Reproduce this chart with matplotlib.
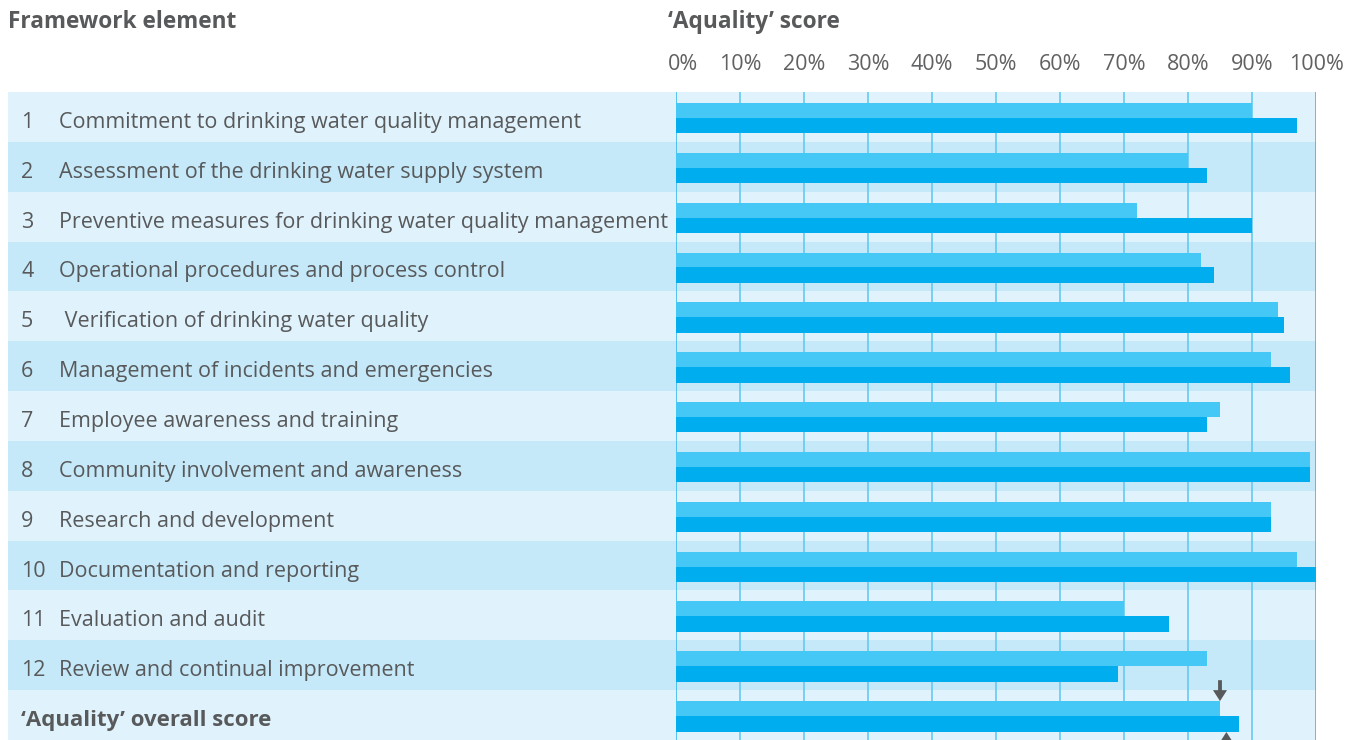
import matplotlib
matplotlib.use('Agg')
import matplotlib.pyplot as plt
import matplotlib.transforms as mtrans
from matplotlib.patches import Rectangle

# ---- data ----
numbers = ['1', '2', '3', '4', '5', '6', '7', '8', '9', '10', '11', '12', '']
elements = [
    'Commitment to drinking water quality management',
    'Assessment of the drinking water supply system',
    'Preventive measures for drinking water quality management',
    'Operational procedures and process control',
    ' Verification of drinking water quality',
    'Management of incidents and emergencies',
    'Employee awareness and training',
    'Community involvement and awareness',
    'Research and development',
    'Documentation and reporting',
    'Evaluation and audit',
    'Review and continual improvement',
    '\u2018Aquality\u2019 overall score',
]
score_light = [90, 80, 72, 82, 94, 93, 85, 99, 93, 97, 70, 83, 85]
score_dark = [97, 83, 90, 84, 95, 96, 83, 99, 93, 100, 77, 69, 88]
ticks = [0, 10, 20, 30, 40, 50, 60, 70, 80, 90, 100]
tick_labels = [f'{t}%' for t in ticks]
arrow_down_at = 85   # marker above the light bar of the overall row
arrow_up_at = 86     # marker below the dark bar of the overall row

# ---- style ----
TXT = '#58595B'
BAND_A = '#E0F3FC'
BAND_B = '#C5E9F8'
BAR_LIGHT = '#45C8F5'
BAR_DARK = '#00AEEF'
GRID = '#5CC6EF'
FONT = ['Open Sans', 'DejaVu Sans']
plt.rcParams['font.family'] = FONT
FS = 15.5
FS_HEAD = 16.3

W, H = 1362, 740
fig = plt.figure(figsize=(W / 100, H / 100), dpi=100)
ax = fig.add_axes([676 / W, 0, 640 / W, (740 - 92) / H])
n = len(elements)
ax.set_xlim(0, 100)
ax.set_ylim(n, 0)
ax.axis('off')

# background bands (extend left under the labels)
btr = mtrans.blended_transform_factory(ax.transAxes, ax.transData)
x0 = (8 - 676) / 640
for i in range(n):
    ax.add_patch(Rectangle((x0, i), 1 - x0, 1, transform=btr,
                           facecolor=BAND_A if i % 2 == 0 else BAND_B,
                           edgecolor='none', clip_on=False, zorder=0))

# gridlines
for t in ticks:
    c = '#2DB6EC' if t in (0, 100) else GRID
    ax.axvline(t, color=c, lw=1.1, zorder=1)

# bars
ys = list(range(n))
ax.barh([y + 0.37 for y in ys], score_light, height=0.30, color=BAR_LIGHT, zorder=2)
ax.barh([y + 0.675 for y in ys], score_dark, height=0.31, color=BAR_DARK, zorder=2)

# row labels
ltr = mtrans.blended_transform_factory(fig.transFigure, ax.transData)
BASE = 0.72
for i, (num, el) in enumerate(zip(numbers, elements)):
    if num:
        ax.text(21 / W, i + BASE, num, transform=ltr, ha='left', va='baseline',
                fontsize=FS, color=TXT)
        ax.text(59 / W, i + BASE, el, transform=ltr, ha='left', va='baseline',
                fontsize=FS, color=TXT)
    else:
        ax.text(21 / W, i + BASE, el, transform=ltr, ha='left', va='baseline',
                fontsize=16, color=TXT, fontweight='bold')

# tick labels on top
ttr = mtrans.blended_transform_factory(ax.transData, fig.transFigure)
for t, lab in zip(ticks, tick_labels):
    tr = ttr
    if t == ticks[0]:
        tr = ttr + mtrans.ScaledTranslation(7 / 100, 0, fig.dpi_scale_trans)
    ax.text(t, 1 - 70 / H, lab, transform=tr, ha='center', va='baseline',
            fontsize=FS, color='#606163', clip_on=False)

# headers
fig.text(8 / W, 1 - 28 / H, 'Framework element', ha='left', va='baseline',
         fontsize=FS_HEAD, fontweight='bold', color=TXT)
fig.text(668 / W, 1 - 28 / H, '\u2018Aquality\u2019 score', ha='left', va='baseline',
         fontsize=FS_HEAD, fontweight='bold', color=TXT)

# arrows on overall row
last = n - 1
ax.arrow(arrow_down_at, last - 0.2, 0, 0.42, width=0.6, head_width=2.2,
         head_length=0.22, length_includes_head=True, color=TXT, lw=0, zorder=3)
ax.arrow(arrow_up_at, last + 1.4, 0, -0.56, width=0.6, head_width=2.2,
         head_length=0.22, length_includes_head=True, color=TXT, lw=0, zorder=3)

fig.savefig('out.png', dpi=100)
